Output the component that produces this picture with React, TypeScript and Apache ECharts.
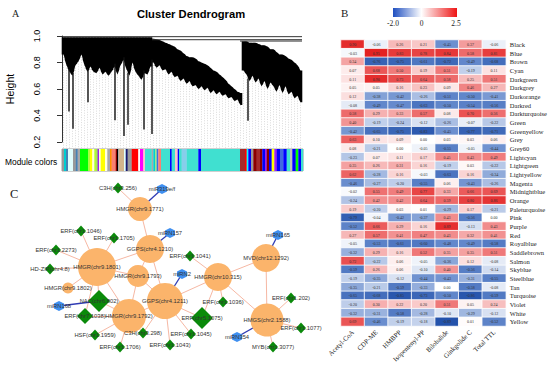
import React, { useEffect, useRef } from "react";
import * as echarts from "echarts";

// ---------------- Panel B : module–trait heatmap ----------------
const heatRows = [
  "Black", "Blue", "Brown", "Cyan", "Darkgreen", "Darkgrey", "Darkorange", "Darkred",
  "Darkturquoise", "Green", "Greenyellow", "Grey", "Grey60", "Lightcyan", "Lightgreen",
  "Lightyellow", "Magenta", "Midnightblue", "Orange", "Paleturquoise", "Pink", "Purple",
  "Red", "Royalblue", "Saddlebrown", "Salmon", "Skyblue", "Steelblue", "Tan", "Turquoise",
  "Violet", "White", "Yellow",
];
const heatCols = ["Acetyl-CoA", "CDP-ME", "HMBPP", "Isopentenyl-PP", "Bilobalide", "Ginkgolide C", "Total TTL"];
const heatValues = [
  [0.90, -0.06, 0.26, 0.21, -0.45, 0.37, -0.06],
  [-0.03, 0.95, 0.83, 0.78, 0.84, 0.58, 0.81],
  [0.34, -0.76, -0.75, -0.61, -0.72, -0.49, -0.68],
  [0.07, 0.68, 0.50, 0.19, 0.51, -0.19, 0.11],
  [0.11, 0.90, 0.73, 0.64, 0.58, 0.25, 0.51],
  [0.05, 0.05, 0.16, 0.23, 0.09, 0.46, 0.27],
  [0.12, -0.38, -0.42, -0.26, -0.51, -0.50, -0.41],
  [-0.08, -0.49, -0.47, -0.63, -0.50, -0.54, -0.56],
  [0.58, 0.29, 0.33, 0.57, 0.08, 0.70, 0.56],
  [0.40, -0.19, -0.24, -0.12, -0.26, -0.07, -0.22],
  [-0.42, -0.65, -0.75, -0.83, -0.45, -0.77, -0.71],
  [0.63, 0.10, 0.09, 0.00, 0.03, 0.03, 0.06],
  [0.08, -0.21, 0.00, -0.05, -0.55, -0.05, -0.44],
  [-0.23, 0.07, 0.11, 0.17, 0.45, 0.43, 0.49],
  [0.35, 0.26, 0.31, 0.16, -0.19, 0.03, -0.22],
  [0.62, -0.28, 0.16, -0.03, -0.63, 0.16, -0.34],
  [-0.46, -0.27, -0.20, -0.55, 0.06, -0.43, -0.26],
  [-0.02, 0.55, 0.49, 0.77, 0.33, 0.66, 0.69],
  [-0.24, 0.42, 0.42, 0.64, 0.59, 0.80, 0.86],
  [0.19, -0.20, 0.03, 0.01, -0.29, 0.17, -0.21],
  [-0.79, -0.04, -0.42, -0.37, 0.43, -0.56, 0.00],
  [-0.52, 0.66, 0.29, 0.16, 0.89, -0.13, 0.43],
  [0.27, 0.57, 0.41, 0.47, 0.43, 0.32, 0.41],
  [-0.05, -0.53, -0.61, -0.60, -0.48, -0.49, -0.58],
  [-0.32, 0.29, 0.16, 0.52, 0.35, 0.35, 0.51],
  [0.72, -0.22, 0.06, -0.05, -0.36, 0.12, -0.08],
  [-0.59, 0.26, 0.06, -0.10, 0.40, -0.56, -0.14],
  [-0.19, -0.35, -0.12, -0.44, -0.43, -0.31, -0.55],
  [-0.35, -0.21, -0.59, -0.33, 0.00, -0.58, -0.08],
  [-0.65, -0.68, -0.85, -0.73, -0.50, -0.86, -0.59],
  [-0.20, 0.30, 0.22, 0.20, 0.51, 0.05, 0.24],
  [-0.32, -0.31, -0.58, -0.28, -0.10, -0.29, -0.12],
  [0.69, -0.46, -0.19, -0.18, -0.89, 0.01, -0.52],
];
const legendTicks = ["-2.0", "0", "2.5"];

// ---------------- Panel A : cluster dendrogram ----------------
// one column = 3 leaves; top (upper) and bottom (lower) merge heights of each column
const dendroUpper = [
  0.99, 0.99, 0.99, 0.99, 0.99, 0.99, 0.99, 0.99, 0.99, 0.99, 0.99, 0.99, 0.99, 0.99, 0.99,
  0.99, 0.99, 0.99, 0.99, 0.99, 0.99, 0.99, 0.99, 0.99, 0.99, 0.99, 0.99, 0.99, 0.99, 0.99,
  0.98, 0.975, 0.97, 0.96, 0.95, 0.94, 0.93, 0.92, 0.90, 0.89, 0.87, 0.85, 0.84, 0.84, 0.83,
  0.81, 0.80, 0.79, 0.78, 0.76, 0.74, 0.73, 0.71, 0.69, 0.67, 0.64, 0.62, 0.60, 0.58, 0.57,
  0.96, 0.96, 0.95, 0.95, 0.95, 0.94, 0.93, 0.93, 0.92, 0.90, 0.90, 0.88, 0.86, 0.86, 0.85,
  0.83, 0.82, 0.80, 0.78, 0.74,
];
const dendroLower = [
  0.86, 0.78, 0.73, 0.70, 0.78, 0.81, 0.86, 0.78, 0.73, 0.77, 0.73, 0.72, 0.76, 0.71, 0.73,
  0.70, 0.73, 0.77, 0.71, 0.78, 0.82, 0.75, 0.70, 0.80, 0.73, 0.70, 0.67, 0.72, 0.71, 0.77,
  0.80, 0.76, 0.78, 0.74, 0.75, 0.71, 0.73, 0.69, 0.70, 0.66, 0.68, 0.64, 0.66, 0.62, 0.63,
  0.60, 0.62, 0.59, 0.61, 0.57, 0.59, 0.56, 0.58, 0.55, 0.56, 0.53, 0.54, 0.51, 0.52, 0.48,
  0.74, 0.71, 0.66, 0.70, 0.65, 0.68, 0.62, 0.66, 0.60, 0.65, 0.62, 0.58, 0.63, 0.57, 0.62,
  0.56, 0.58, 0.53, 0.55, 0.50,
];
// first column of each main cluster
const dendroClusterStarts = [0, 30, 60];
// single long branches: [leaf position, height]
const dendroSpikes = [
  [7, 0.43], [11, 0.3], [26, 0.5], [53, 0.365], [62, 0.245], [66, 0.33], [82, 0.295], [90, 0.26], [186, 0.36],
];
// horizontal merges: [from leaf, to leaf, height]
const dendroMerges = [
  [0, 240, 0.995], [90, 240, 0.972], [178, 240, 0.962],
];
const heightTicks = [0.2, 0.4, 0.6, 0.8, 1.0];
// module colour strip: [from leaf, to leaf, module]
const moduleSegments: [number, number, string][] = [
  [0, 2, "grey60"], [2, 4, "darkturquoise"], [4, 6, "steelblue"], [6, 11, "lightcyan"],
  [11, 13.7, "grey60"], [13.7, 15.7, "steelblue"], [15.7, 18, "darkgrey"], [18, 26.3, "green"],
  [26.3, 28, "greenyellow"], [28, 30.3, "yellow"], [30.3, 32.3, "lightyellow"], [32.3, 34.7, "greenyellow"],
  [34.7, 36, "grey60"], [36, 37, "purple"], [37, 38.7, "lightyellow"], [38.7, 43, "yellow"],
  [43, 45.3, "lightyellow"], [45.3, 48, "darkgrey"], [48, 49.7, "darkorange"], [49.7, 53.7, "salmon"],
  [53.7, 55, "darkred"], [55, 56.3, "black"], [56.3, 57, "grey"], [57, 62, "tan"],
  [62, 63.7, "lightcyan"], [63.7, 65.7, "midnightblue"], [65.7, 69.7, "grey60"], [69.7, 76.3, "red"],
  [76.3, 78, "white"], [78, 81.3, "magenta"], [81.3, 83, "pink"], [83, 89.7, "turquoise"],
  [89.7, 91.3, "darkgrey"], [91.3, 93, "darkturquoise"], [93, 94.7, "lightgreen"], [94.7, 96.3, "royalblue"],
  [96.3, 99, "salmon"], [99, 108, "turquoise"], [108, 109.7, "blue"], [109.7, 113, "turquoise"],
  [113, 115.7, "pink"], [115.7, 117, "blue"], [117, 119.7, "turquoise"], [119.7, 124.7, "skyblue"],
  [124.7, 136.3, "turquoise"], [136.3, 139, "blue"], [139, 178, "turquoise"], [178, 183, "brown"],
  [183, 184.7, "red"], [184.7, 186.3, "cyan"], [186.3, 189, "blue"], [189, 191.3, "grey60"],
  [191.3, 194.7, "darkred"], [194.7, 198, "brown"], [198, 200.3, "darkred"], [200.3, 203, "blue"],
  [203, 204.7, "purple"], [204.7, 207, "darkred"], [207, 209.7, "blue"], [209.7, 212.3, "yellow"],
  [212.3, 214.7, "purple"], [214.7, 218, "blue"], [218, 221.3, "royalblue"], [221.3, 224.7, "blue"],
  [224.7, 228, "turquoise"], [228, 230.3, "grey"], [230.3, 233.7, "blue"], [233.7, 236.3, "green"],
  [236.3, 239, "blue"], [239, 241, "turquoise"],
];

// ---------------- Panel C : co-expression network ----------------
// [name, kind, layout x, layout y, node size]
const nodes: [string, string, number, number, number][] = [
  ["HMGR(chr9.1771)", "gene", 140, 209, 24],
  ["GGPS(chr4.1210)", "gene", 150, 249, 28],
  ["HMGR(chr9.1801)", "gene", 97, 267, 38],
  ["HMGR(chr9.1793)", "gene", 138, 276, 22],
  ["HMGR(chr9.1802)", "gene", 68, 288, 11],
  ["GGPS(chr4.1211)", "gene", 165, 301, 36],
  ["HMGR(chr9.1792)", "gene", 129, 316, 34],
  ["HMGR(chr10.315)", "gene", 218, 277, 28],
  ["MVD(chr12.1292)", "gene", 266, 258, 28],
  ["HMGS(chr2.1588)", "gene", 267, 320, 33],
  ["C3H(chr3.256)", "tf", 118, 188, 10],
  ["ERF(chr1.1046)", "tf", 81, 231, 10],
  ["ERF(chr1.1705)", "tf", 114, 238, 10],
  ["ERF(chr1.2273)", "tf", 56, 250, 10],
  ["HD-ZIP(chr4.8)", "tf", 50, 269, 10],
  ["NAC(chr6.802)", "tf", 99, 301, 22],
  ["ERF(chr7.1038)", "tf", 85, 316, 16],
  ["HSF(chr1.1959)", "tf", 95, 335, 10],
  ["C3H(chr3.298)", "tf", 143, 333, 10],
  ["ERF(chr1.1706)", "tf", 120, 347, 10],
  ["ERF(chr1.1041)", "tf", 190, 256, 10],
  ["ERF(chr1.1036)", "tf", 223, 302, 10],
  ["ERF(chr5.1075)", "tf", 202, 318, 22],
  ["ERF(chr1.1045)", "tf", 191, 334, 10],
  ["ERF(chr1.1043)", "tf", 170, 345, 10],
  ["ERF(chr1.202)", "tf", 291, 298, 10],
  ["ERF(chr1.1077)", "tf", 301, 328, 10],
  ["MYB(chr1.3077)", "tf", 273, 347, 10],
  ["miR319e/f", "mirna", 162, 189, 10],
  ["miRN157", "mirna", 170, 233, 10],
  ["miRN2", "mirna", 182, 274, 10],
  ["miRN165", "mirna", 278, 235, 10],
  ["miRN168", "mirna", 59, 306, 10],
  ["miRN354", "mirna", 237, 337, 10],
];
const edges: [string, string][] = [
  ["C3H(chr3.256)", "HMGR(chr9.1771)"],
  ["miR319e/f", "HMGR(chr9.1771)"],
  ["HMGR(chr9.1771)", "GGPS(chr4.1210)"],
  ["miRN157", "GGPS(chr4.1210)"],
  ["GGPS(chr4.1210)", "HMGR(chr9.1801)"],
  ["GGPS(chr4.1210)", "HMGR(chr9.1793)"],
  ["GGPS(chr4.1210)", "GGPS(chr4.1211)"],
  ["HMGR(chr9.1801)", "ERF(chr1.1046)"],
  ["HMGR(chr9.1801)", "ERF(chr1.1705)"],
  ["HMGR(chr9.1801)", "ERF(chr1.2273)"],
  ["HMGR(chr9.1801)", "HD-ZIP(chr4.8)"],
  ["HMGR(chr9.1801)", "HMGR(chr9.1802)"],
  ["HMGR(chr9.1801)", "NAC(chr6.802)"],
  ["HMGR(chr9.1801)", "ERF(chr7.1038)"],
  ["HMGR(chr9.1801)", "HMGR(chr9.1793)"],
  ["HMGR(chr9.1801)", "HMGR(chr9.1792)"],
  ["miRN168", "NAC(chr6.802)"],
  ["NAC(chr6.802)", "HMGR(chr9.1792)"],
  ["ERF(chr7.1038)", "HMGR(chr9.1792)"],
  ["HMGR(chr9.1792)", "HSF(chr1.1959)"],
  ["HMGR(chr9.1792)", "ERF(chr1.1706)"],
  ["HMGR(chr9.1792)", "C3H(chr3.298)"],
  ["HMGR(chr9.1792)", "GGPS(chr4.1211)"],
  ["HMGR(chr9.1793)", "HMGR(chr9.1792)"],
  ["HMGR(chr9.1793)", "GGPS(chr4.1211)"],
  ["miRN2", "GGPS(chr4.1211)"],
  ["GGPS(chr4.1211)", "HMGR(chr10.315)"],
  ["GGPS(chr4.1211)", "ERF(chr5.1075)"],
  ["GGPS(chr4.1211)", "ERF(chr1.1045)"],
  ["GGPS(chr4.1211)", "ERF(chr1.1043)"],
  ["GGPS(chr4.1211)", "C3H(chr3.298)"],
  ["HMGR(chr10.315)", "ERF(chr1.1041)"],
  ["HMGR(chr10.315)", "ERF(chr1.1036)"],
  ["HMGR(chr10.315)", "ERF(chr5.1075)"],
  ["HMGR(chr10.315)", "MVD(chr12.1292)"],
  ["HMGR(chr10.315)", "HMGS(chr2.1588)"],
  ["miRN165", "MVD(chr12.1292)"],
  ["MVD(chr12.1292)", "HMGS(chr2.1588)"],
  ["HMGS(chr2.1588)", "ERF(chr1.202)"],
  ["HMGS(chr2.1588)", "ERF(chr1.1077)"],
  ["HMGS(chr2.1588)", "MYB(chr1.3077)"],
  ["miRN354", "HMGS(chr2.1588)"],
];

// ---------------- styles ----------------
const SANS = "Liberation Sans, Arial, sans-serif";
const SERIF = "Liberation Serif, Times New Roman, serif";
const LEAVES_PER_COL = 3;
const moduleColor: Record<string, string> = {
  black: "#000000", blue: "#0000ff", brown: "#a52a2a", cyan: "#00ffff", darkgreen: "#006400",
  darkgrey: "#a9a9a9", darkorange: "#ff8c00", darkred: "#8b0000", darkturquoise: "#00ced1",
  green: "#00ff00", greenyellow: "#adff2f", grey: "#bebebe", grey60: "#999999", lightcyan: "#e0ffff",
  lightgreen: "#90ee90", lightyellow: "#ffffe0", magenta: "#ff00ff", midnightblue: "#191970",
  orange: "#ffa500", paleturquoise: "#afeeee", pink: "#ffc0cb", purple: "#a020f0", red: "#ff0000",
  royalblue: "#4169e1", saddlebrown: "#8b4513", salmon: "#fa8072", skyblue: "#87ceeb",
  steelblue: "#4682b4", tan: "#d2b48c", turquoise: "#40e0d0", violet: "#ee82ee", white: "#ffffff",
  yellow: "#ffff00",
};
const nodeStyle: Record<string, any> = {
  gene: { symbol: "circle", color: "#fbb46b" },
  tf: { symbol: "diamond", color: "#0a8a0a" },
  mirna: { symbol: "path://M0,-1 L0.87,-0.5 L0.87,0.5 L0,1 L-0.87,0.5 L-0.87,-0.5 Z", color: "#3f8ff0" },
};

export default function App() {
  const ref = useRef<HTMLDivElement>(null);
  useEffect(() => {
    document.body.style.margin = "0";
    if (!ref.current) return;
    const chart = echarts.init(ref.current, undefined, { renderer: "svg" });

    const heatData: number[][] = [];
    heatValues.forEach((row, r) => row.forEach((v, c) => heatData.push([c, r, v])));

    const dendroData = dendroUpper.map((u, i) => [i * LEAVES_PER_COL, u, dendroLower[i]]);
    const sameCluster = (a: number, b: number) => {
      if (a < 0 || b < 0 || a >= dendroUpper.length || b >= dendroUpper.length) return false;
      const ca = dendroClusterStarts.filter((s) => s <= a).length;
      const cb = dendroClusterStarts.filter((s) => s <= b).length;
      return ca === cb;
    };
    const kindOf: Record<string, string> = {};
    nodes.forEach((n) => (kindOf[n[0]] = n[1]));

    const option: any = {
      animation: false,
      backgroundColor: "#ffffff",
      grid: [
        { left: 62, top: 36, width: 241, height: 106 },
        { left: 62, top: 149, width: 241, height: 22, show: true, borderColor: "#888", borderWidth: 0.8 },
        { left: 341, top: 40, width: 168, height: 286 },
        { left: 0, top: 0, width: 550, height: 365 },
      ],
      xAxis: [
        { gridIndex: 0, type: "value", min: 0, max: 241, show: false },
        { gridIndex: 1, type: "value", min: 0, max: 241, show: false },
        {
          gridIndex: 2, type: "category", data: heatCols,
          axisLine: { show: false }, axisTick: { show: false }, splitLine: { show: false },
          axisLabel: { rotate: 45, interval: 0, margin: 5, fontSize: 6.8, color: "#222", fontFamily: SERIF },
        },
        { gridIndex: 3, type: "value", min: 0, max: 550, show: false },
      ],
      yAxis: [
        {
          gridIndex: 0, type: "value", min: heightTicks[0], max: heightTicks[heightTicks.length - 1], interval: 0.2,
          offset: 7, name: "Height", nameLocation: "middle", nameGap: 40,
          nameTextStyle: { fontSize: 10.5, color: "#000", fontFamily: SANS },
          axisLine: { show: true, lineStyle: { color: "#000", width: 0.8 } },
          axisTick: { show: true, length: 5, lineStyle: { color: "#000", width: 0.8 } },
          axisLabel: { rotate: 90, margin: 14, fontSize: 9, color: "#000", fontFamily: SANS, formatter: (v: number) => v.toFixed(1) },
          splitLine: { show: false },
        },
        { gridIndex: 1, type: "value", min: 0, max: 1, show: false },
        {
          gridIndex: 2, type: "category", data: heatRows, inverse: true, position: "right",
          axisLine: { show: false }, axisTick: { show: false }, splitLine: { show: false },
          axisLabel: { interval: 0, margin: 4, fontSize: 6.5, color: "#222", fontFamily: SERIF },
        },
        { gridIndex: 3, type: "value", min: 0, max: 365, inverse: true, show: false },
      ],
      visualMap: [
        {
          show: false, seriesIndex: 5, dimension: 2, min: -0.95, max: 0.95,
          inRange: { color: ["#1a4aa6", "#6489cc", "#ffffff", "#f08080", "#e32222"] },
        },
      ],
      series: [
        // 0: dendrogram mass (saw-tooth between column centres) + dotted leaf guides
        {
          type: "custom", xAxisIndex: 0, yAxisIndex: 0, clip: false, silent: true,
          data: dendroData,
          renderItem: (params: any, api: any) => {
            const i = params.dataIndex;
            const x0 = api.value(0), up = api.value(1), lo = api.value(2);
            const half = LEAVES_PER_COL / 2;
            const xc = x0 + half;
            const prevOk = sameCluster(i - 1, i);
            const nextOk = sameCluster(i, i + 1);
            const ul = prevOk ? (dendroUpper[i - 1] + up) / 2 : up;
            const ll = prevOk ? (dendroLower[i - 1] + lo) / 2 : lo;
            const ur = nextOk ? (dendroUpper[i + 1] + up) / 2 : up;
            const lr = nextOk ? (dendroLower[i + 1] + lo) / 2 : lo;
            const pts = [
              api.coord([x0, ul]), api.coord([xc, up]), api.coord([x0 + LEAVES_PER_COL, ur]),
              api.coord([x0 + LEAVES_PER_COL, lr]), api.coord([xc, lo]), api.coord([x0, ll]),
            ];
            pts[0][0] -= 0.3; pts[5][0] -= 0.3; pts[2][0] += 0.3; pts[3][0] += 0.3;
            const pc = api.coord([xc, lo]);
            const base = api.coord([xc, heightTicks[0]])[1];
            return {
              type: "group",
              children: [
                { type: "line", shape: { x1: pc[0], y1: pc[1], x2: pc[0], y2: base + 6 }, style: { stroke: "#c2c2c2", lineWidth: 0.6, lineDash: [1, 1.5] } },
                { type: "polygon", shape: { points: pts }, style: { fill: "#000" } },
              ],
            };
          },
        },
        // 1: long single branches
        {
          type: "custom", xAxisIndex: 0, yAxisIndex: 0, clip: false, silent: true,
          data: dendroSpikes,
          renderItem: (params: any, api: any) => {
            const x = api.value(0), h = api.value(1);
            const col = Math.min(dendroLower.length - 1, Math.floor(x / LEAVES_PER_COL));
            const p1 = api.coord([x, dendroLower[col] + 0.02]);
            const p2 = api.coord([x, h]);
            return { type: "line", shape: { x1: p1[0], y1: p1[1], x2: p2[0], y2: p2[1] }, style: { stroke: "#111", lineWidth: 1.4 } };
          },
        },
        // 2: horizontal merges
        {
          type: "custom", xAxisIndex: 0, yAxisIndex: 0, clip: false, silent: true,
          data: dendroMerges,
          renderItem: (params: any, api: any) => {
            const p1 = api.coord([api.value(0), api.value(2)]);
            const p2 = api.coord([api.value(1), api.value(2)]);
            return { type: "line", shape: { x1: p1[0], y1: p1[1], x2: p2[0], y2: p2[1] }, style: { stroke: "#333", lineWidth: 1 } };
          },
        },
        // 3: module colour strip
        {
          type: "custom", xAxisIndex: 1, yAxisIndex: 1, silent: true,
          data: moduleSegments.map((s) => [s[0], s[1]]),
          renderItem: (params: any, api: any) => {
            const p1 = api.coord([api.value(0), 1]);
            const p2 = api.coord([api.value(1), 0]);
            const name = moduleSegments[params.dataIndex][2];
            return { type: "rect", shape: { x: p1[0], y: p1[1], width: p2[0] - p1[0] + 0.2, height: p2[1] - p1[1] }, style: { fill: moduleColor[name] } };
          },
        },
        // 4: network
        {
          type: "graph", coordinateSystem: "cartesian2d", xAxisIndex: 3, yAxisIndex: 3,
          silent: true,
          data: nodes.map((n) => ({
            name: n[0],
            value: [n[2], n[3]],
            symbol: nodeStyle[n[1]].symbol,
            symbolSize: n[1] === "tf" && n[4] === 10 ? [10, 11] : n[4],
            itemStyle: { color: nodeStyle[n[1]].color },
          })),
          links: edges.map((e) => {
            const mi = kindOf[e[0]] === "mirna" || kindOf[e[1]] === "mirna";
            return { source: e[0], target: e[1], lineStyle: { color: mi ? "#2f3bb4" : "#f6b8a4", width: mi ? 1.3 : 1, opacity: 1 } };
          }),
          label: { show: true, position: "inside", fontSize: 5.8, color: "#333", fontFamily: SANS },
          lineStyle: { curveness: 0, opacity: 1 },
        },
        // 5: heatmap
        {
          type: "heatmap", xAxisIndex: 2, yAxisIndex: 2, silent: true,
          data: heatData,
          itemStyle: { borderColor: "#ffffff", borderWidth: 0.8 },
          label: {
            show: true, fontSize: 4, color: "#333", fontFamily: SERIF,
            formatter: (p: any) => p.value[2].toFixed(2),
          },
        },
      ],
      graphic: [
        { type: "text", x: 12, y: 13, style: { text: "A", font: `10px ${SERIF}`, fill: "#222", textVerticalAlign: "middle" } },
        { type: "text", x: 191, y: 14, style: { text: "Cluster Dendrogram", font: `bold 11.2px ${SANS}`, fill: "#000", textAlign: "center", textVerticalAlign: "middle" } },
        { type: "text", x: 5, y: 162, style: { text: "Module colors", font: `8.4px ${SANS}`, fill: "#000", textVerticalAlign: "middle" } },
        { type: "text", x: 341, y: 13, style: { text: "B", font: `11px ${SERIF}`, fill: "#222", textVerticalAlign: "middle" } },
        { type: "text", x: 10, y: 194, style: { text: "C", font: `12.5px ${SERIF}`, fill: "#222", textVerticalAlign: "middle" } },
        {
          type: "rect", shape: { x: 393, y: 8, width: 64, height: 9 },
          style: {
            fill: new echarts.graphic.LinearGradient(0, 0, 1, 0, [
              { offset: 0, color: "#1f4fc0" },
              { offset: 0.444, color: "#ffffff" },
              { offset: 1, color: "#ee1515" },
            ]),
          },
        },
        { type: "text", x: 393, y: 23, style: { text: legendTicks[0], font: `7.5px ${SERIF}`, fill: "#222", textAlign: "center", textVerticalAlign: "middle" } },
        { type: "text", x: 421.5, y: 23, style: { text: legendTicks[1], font: `7.5px ${SERIF}`, fill: "#222", textAlign: "center", textVerticalAlign: "middle" } },
        { type: "text", x: 456, y: 23, style: { text: legendTicks[2], font: `7.5px ${SERIF}`, fill: "#222", textAlign: "center", textVerticalAlign: "middle" } },
      ],
    };
    chart.setOption(option);
    return () => chart.dispose();
  }, []);
  return <div ref={ref} style={{ width: 550, height: 365 }} />;
}
